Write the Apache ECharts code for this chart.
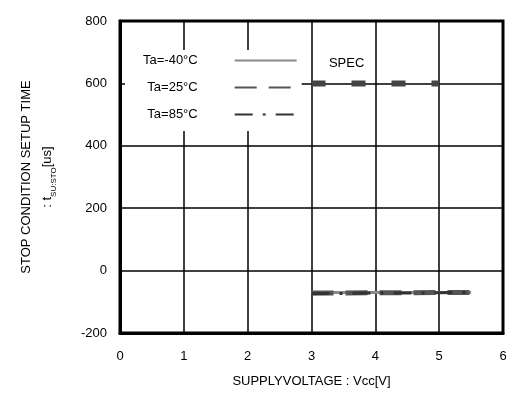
<!DOCTYPE html>
<html>
<head>
<meta charset="utf-8">
<script src="https://cdn.jsdelivr.net/npm/echarts@6/dist/echarts.min.js"></script>
<style>
  html, body { margin: 0; padding: 0; background: #fff; }
  #chart { width: 513px; height: 396px; }
</style>
</head>
<body>
<div id="chart"></div>
<script>
// 数据
const xTicks = [0, 1, 2, 3, 4, 5, 6];
const yTicks = [-200, 0, 200, 400, 600, 800];
const seriesNames = ['Ta=-40°C', 'Ta=25°C', 'Ta=85°C'];
const vcc = [3.0, 3.5, 4.0, 4.5, 5.0, 5.5];
const tsuM40 = [-70, -70, -70, -70, -70, -70];
const tsu25 = [-72, -72, -71, -71, -70, -70];
const tsu85 = [-74, -73, -72, -72, -71, -70];
const specX = [3, 5];
const specY = [600, 600];

const zip = (xs, ys) => xs.map((x, i) => [x, ys[i]]);

const chart = echarts.init(document.getElementById('chart'));
const option = {
  animation: false,
  textStyle: { fontFamily: 'Liberation Sans, Arial, sans-serif', color: '#000' },
  grid: {
    left: 120, right: 10, top: 21, bottom: 63,
    show: true, borderColor: '#000', borderWidth: 3, backgroundColor: '#fff'
  },
  legend: {
    data: seriesNames,
    orient: 'vertical',
    left: 125, top: 50,
    align: 'right',
    itemWidth: 62, itemHeight: 12, itemGap: 14,
    backgroundColor: '#fff',
    padding: [4, 4, 10, 18],
    itemStyle: { opacity: 0 },
    textStyle: { fontSize: 13, color: '#000', padding: [0, 32, 0, 0] }
  },
  xAxis: {
    type: 'value', min: xTicks[0], max: xTicks[xTicks.length - 1], interval: 1,
    name: 'SUPPLYVOLTAGE : Vcc[V]', nameLocation: 'middle', nameGap: 42,
    nameTextStyle: { fontSize: 13, color: '#000' },
    axisLine: { show: true, onZero: false, lineStyle: { color: '#000', width: 3 } },
    axisTick: { show: false },
    axisLabel: { fontSize: 13, color: '#000', margin: 17 },
    splitLine: { show: true, lineStyle: { color: '#000', width: 1.5 } }
  },
  yAxis: {
    type: 'value', min: yTicks[0], max: yTicks[yTicks.length - 1], interval: 200,
    name: 'STOP CONDITION SETUP TIME\n: t{sub|SU:STO}[us]',
    nameLocation: 'middle', nameGap: 62, nameRotate: 90,
    nameTextStyle: {
      fontSize: 13, color: '#000', lineHeight: 21, align: 'center',
      rich: { sub: { fontSize: 8, verticalAlign: 'bottom', padding: [6, 0, 0, 0] } }
    },
    axisLine: { show: true, onZero: false, lineStyle: { color: '#000', width: 3 } },
    axisTick: { show: false },
    axisLabel: { fontSize: 13, color: '#000', margin: 13 },
    splitLine: { show: true, lineStyle: { color: '#000', width: 1.5 } }
  },
  series: [
    {
      name: seriesNames[0], type: 'line', data: zip(vcc, tsuM40), symbol: 'none',
      lineStyle: { color: '#8a8a8a', width: 3 }, itemStyle: { color: '#8a8a8a' }
    },
    {
      name: seriesNames[1], type: 'line', data: zip(vcc, tsu25), symbol: 'none',
      lineStyle: { color: '#555', width: 5, type: [22, 12] }, itemStyle: { color: '#555' }
    },
    {
      name: seriesNames[2], type: 'line', data: zip(vcc, tsu85), symbol: 'none',
      lineStyle: { color: '#333', width: 3, type: [18, 10, 3, 10] }, itemStyle: { color: '#333' }
    },
    {
      name: 'SPEC', type: 'line', data: zip(specX, specY), symbol: 'none',
      lineStyle: { color: '#444', width: 6, type: [14, 26] },
      markPoint: {
        symbol: 'rect', symbolSize: 0,
        data: [{ coord: [3.55, 665], value: 'SPEC' }],
        label: { show: true, formatter: 'SPEC', fontSize: 13, color: '#000' }
      }
    }
  ]
};
chart.setOption(option);
</script>
</body>
</html>
